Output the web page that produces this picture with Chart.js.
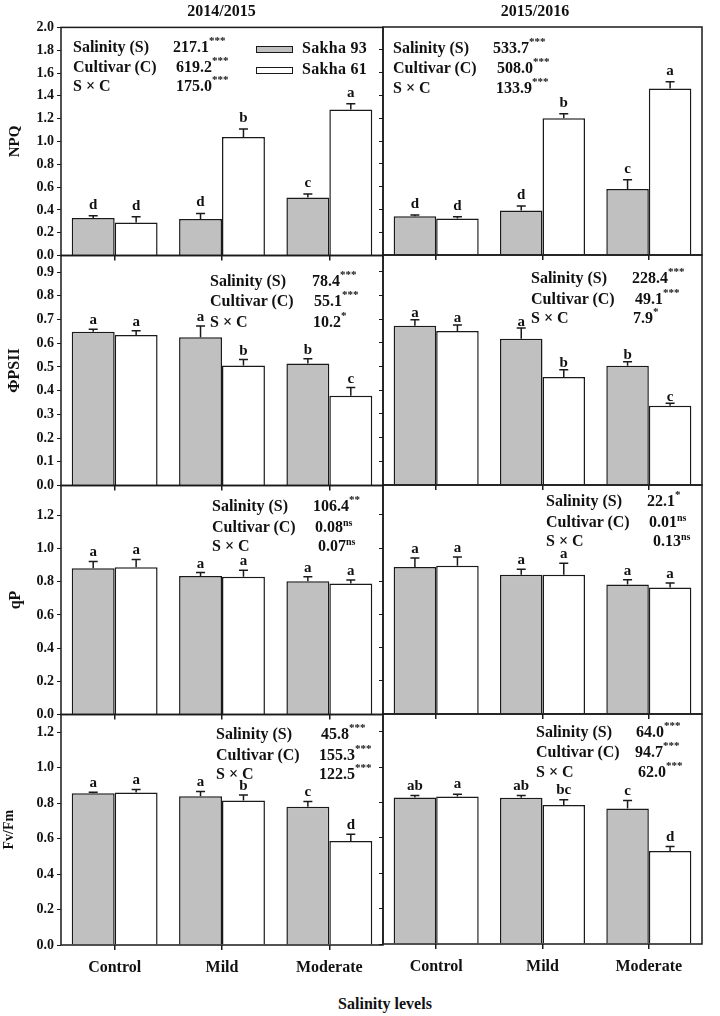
<!DOCTYPE html>
<html>
<head>
<meta charset="utf-8">
<script src="https://cdn.jsdelivr.net/npm/chart.js@4.4.0/dist/chart.umd.min.js"></script>
<style>
html,body{margin:0;padding:0;background:#fff;}
#fig{position:relative;width:720px;height:1016px;overflow:hidden;background:#fff;
  font-family:'Liberation Serif','Times New Roman',serif;font-weight:bold;color:#111;}
#fig canvas{position:absolute;}
.t{position:absolute;white-space:nowrap;}
.sup{position:relative;line-height:0;}
</style>
</head>
<body>
<div id="fig"></div>
<script>
// ---------------- data ----------------
const categories = ['Control', 'Mild', 'Moderate'];
const seriesNames = ['Sakha 93', 'Sakha 61'];
const seasons = ['2014/2015', '2015/2016'];
const statLabels = ['Salinity (S)', 'Cultivar (C)', 'S \u00d7 C'];
const xAxisTitle = 'Salinity levels';

// NPQ
const npq1415S93 = [0.33, 0.32, 0.51];
const npq1415S93Err = [0.02, 0.05, 0.03];
const npq1415S61 = [0.29, 1.04, 1.28];
const npq1415S61Err = [0.05, 0.07, 0.05];
const npq1415S93Let = ['d', 'd', 'c'];
const npq1415S61Let = ['d', 'b', 'a'];
const npq1415Stat = ['217.1', '619.2', '175.0'];
const npq1415Sig = ['***', '***', '***'];

const npq1516S93 = [0.34, 0.39, 0.58];
const npq1516S93Err = [0.01, 0.04, 0.08];
const npq1516S61 = [0.32, 1.20, 1.46];
const npq1516S61Err = [0.015, 0.04, 0.06];
const npq1516S93Let = ['d', 'd', 'c'];
const npq1516S61Let = ['d', 'b', 'a'];
const npq1516Stat = ['533.7', '508.0', '133.9'];
const npq1516Sig = ['***', '***', '***'];

// PhiPSII
const phi1415S93 = [0.648, 0.625, 0.514];
const phi1415S93Err = [0.011, 0.047, 0.021];
const phi1415S61 = [0.635, 0.506, 0.379];
const phi1415S61Err = [0.017, 0.025, 0.034];
const phi1415S93Let = ['a', 'a', 'b'];
const phi1415S61Let = ['a', 'b', 'c'];
const phi1415Stat = ['78.4', '55.1', '10.2'];
const phi1415Sig = ['***', '***', '*'];

const phi1516S93 = [0.672, 0.617, 0.503];
const phi1516S93Err = [0.025, 0.045, 0.017];
const phi1516S61 = [0.649, 0.456, 0.334];
const phi1516S61Err = [0.026, 0.030, 0.011];
const phi1516S93Let = ['a', 'a', 'b'];
const phi1516S61Let = ['a', 'b', 'c'];
const phi1516Stat = ['228.4', '49.1', '7.9'];
const phi1516Sig = ['***', '***', '*'];

// qP
const qp1415S93 = [0.881, 0.835, 0.803];
const qp1415S93Err = [0.041, 0.020, 0.027];
const qp1415S61 = [0.887, 0.830, 0.789];
const qp1415S61Err = [0.047, 0.039, 0.022];
const qp1415S93Let = ['a', 'a', 'a'];
const qp1415S61Let = ['a', 'a', 'a'];
const qp1415Stat = ['106.4', '0.08', '0.07'];
const qp1415Sig = ['**', 'ns', 'ns'];

const qp1516S93 = [0.886, 0.839, 0.781];
const qp1516S93Err = [0.054, 0.034, 0.028];
const qp1516S61 = [0.893, 0.839, 0.763];
const qp1516S61Err = [0.053, 0.069, 0.026];
const qp1516S93Let = ['a', 'a', 'a'];
const qp1516S61Let = ['a', 'a', 'a'];
const qp1516Stat = ['22.1', '0.01', '0.13'];
const qp1516Sig = ['*', 'ns', 'ns'];

// Fv/Fm
const fv1415S93 = [0.855, 0.839, 0.779];
const fv1415S93Err = [0.006, 0.027, 0.030];
const fv1415S61 = [0.860, 0.815, 0.587];
const fv1415S61Err = [0.017, 0.030, 0.037];
const fv1415S93Let = ['a', 'a', 'c'];
const fv1415S61Let = ['a', 'b', 'd'];
const fv1415Stat = ['45.8', '155.3', '122.5'];
const fv1415Sig = ['***', '***', '***'];

const fv1516S93 = [0.828, 0.826, 0.766];
const fv1516S93Err = [0.011, 0.013, 0.045];
const fv1516S61 = [0.834, 0.785, 0.526];
const fv1516S61Err = [0.013, 0.030, 0.025];
const fv1516S93Let = ['ab', 'ab', 'c'];
const fv1516S61Let = ['a', 'bc', 'd'];
const fv1516Stat = ['64.0', '94.7', '62.0'];
const fv1516Sig = ['***', '***', '***'];

// axes
const yTitles = ['NPQ', '\u03a6PSII', 'qP', 'Fv/Fm'];
const yMax = [2.0, 0.97, 1.38, 1.3];
const yStep = [0.2, 0.1, 0.2, 0.2];

// ---------------- layout / style ----------------
const COLS = [{l: 61, r: 383}, {l: 383, r: 702}];
const ROWS = [[27, 255], [255, 485], [485, 714], [714, 944]];
const PAD_T = 10, PAD_R = 6;
const INK = '#1a1a1a';
const GREY = '#c0c0c0';
Chart.defaults.font.family = "'Liberation Serif','Times New Roman',serif";
Chart.defaults.font.weight = 'bold';
Chart.defaults.color = '#111';

const panels = [
  {row:0,col:0,a:npq1415S93,ae:npq1415S93Err,al:npq1415S93Let,b:npq1415S61,be:npq1415S61Err,bl:npq1415S61Let,st:npq1415Stat,sg:npq1415Sig,
   gap:7, lx:73, vx:[173,176,176], bl3:[52.5,72.5,91.5]},
  {row:0,col:1,a:npq1516S93,ae:npq1516S93Err,al:npq1516S93Let,b:npq1516S61,be:npq1516S61Err,bl:npq1516S61Let,st:npq1516Stat,sg:npq1516Sig,
   gap:7, lx:393, vx:[493,497,496], bl3:[53,73,93]},
  {row:1,col:0,a:phi1415S93,ae:phi1415S93Err,al:phi1415S93Let,b:phi1415S61,be:phi1415S61Err,bl:phi1415S61Let,st:phi1415Stat,sg:phi1415Sig,
   gap:5, lx:210, vx:[312,314,313], bl3:[286.7,306.7,327]},
  {row:1,col:1,a:phi1516S93,ae:phi1516S93Err,al:phi1516S93Let,b:phi1516S61,be:phi1516S61Err,bl:phi1516S61Let,st:phi1516Stat,sg:phi1516Sig,
   gap:2.5, lx:531, vx:[632,635,633], bl3:[283.3,304,323.3]},
  {row:2,col:0,a:qp1415S93,ae:qp1415S93Err,al:qp1415S93Let,b:qp1415S61,be:qp1415S61Err,bl:qp1415S61Let,st:qp1415Stat,sg:qp1415Sig,
   gap:5, lx:212, vx:[313,315,318], bl3:[511.7,532,551.7]},
  {row:2,col:1,a:qp1516S93,ae:qp1516S93Err,al:qp1516S93Let,b:qp1516S61,be:qp1516S61Err,bl:qp1516S61Let,st:qp1516Stat,sg:qp1516Sig,
   gap:5, lx:546, vx:[647,649,653], bl3:[506.7,527.3,546.7]},
  {row:3,col:0,a:fv1415S93,ae:fv1415S93Err,al:fv1415S93Let,b:fv1415S61,be:fv1415S61Err,bl:fv1415S61Let,st:fv1415Stat,sg:fv1415Sig,
   gap:5, lx:216, vx:[321,319,319], bl3:[739,760,779.3]},
  {row:3,col:1,a:fv1516S93,ae:fv1516S93Err,al:fv1516S93Let,b:fv1516S61,be:fv1516S61Err,bl:fv1516S61Let,st:fv1516Stat,sg:fv1516Sig,
   gap:6, lx:536, vx:[636,635,638], bl3:[737.3,757.3,777.3]}
];
const yTitleStyle = [{size:15,pad:6},{size:16,pad:5.4},{size:16,pad:6.4},{size:14,pad:1}];

const fig = document.getElementById('fig');

// text helper: x position, baseline y
function place(html, x, baseline, size, align) {
  const d = document.createElement('div');
  d.className = 't';
  d.style.fontSize = size + 'px';
  d.style.lineHeight = size + 'px';
  d.style.top = (baseline - 0.8375 * size) + 'px';
  if (align === 'center') {
    d.style.left = (x - 150) + 'px';
    d.style.width = '300px';
    d.style.textAlign = 'center';
  } else {
    d.style.left = x + 'px';
  }
  d.innerHTML = html;
  fig.appendChild(d);
  return d;
}

const annotate = {
  id: 'annotate',
  afterDatasetsDraw(chart, args, opts) {
    const {ctx, chartArea: a} = chart;
    const y = chart.scales.y;
    ctx.save();
    chart.data.datasets.forEach((ds, di) => {
      const meta = chart.getDatasetMeta(di);
      meta.data.forEach((bar, i) => {
        const yTop = y.getPixelForValue(ds.data[i] + ds.err[i]);
        ctx.strokeStyle = INK;
        ctx.lineWidth = 1.5;
        ctx.beginPath();
        ctx.moveTo(bar.x, bar.y);
        ctx.lineTo(bar.x, yTop);
        ctx.moveTo(bar.x - 4.5, yTop);
        ctx.lineTo(bar.x + 4.5, yTop);
        ctx.stroke();
        ctx.fillStyle = '#111';
        ctx.font = "bold 15px 'Liberation Serif','Times New Roman',serif";
        ctx.textAlign = 'center';
        ctx.textBaseline = 'alphabetic';
        ctx.fillText(ds.letters[i], bar.x, yTop - opts.gap);
      });
    });
    ctx.strokeStyle = INK;
    ctx.lineWidth = 1.5;
    ctx.strokeRect(a.left, a.top, a.right - a.left, a.bottom - a.top);
    ctx.restore();
  }
};

function buildConfig(p, yW, xH) {
  const ts = yTitleStyle[p.row];
  return {
    type: 'bar',
    data: {
      labels: categories,
      datasets: [
        {label: seriesNames[0], data: p.a, err: p.ae, letters: p.al,
         backgroundColor: GREY, borderColor: INK, borderWidth: 1.5,
         categoryPercentage: 0.8, barPercentage: 1.0},
        {label: seriesNames[1], data: p.b, err: p.be, letters: p.bl,
         backgroundColor: '#ffffff', borderColor: INK, borderWidth: 1.5,
         categoryPercentage: 0.8, barPercentage: 1.0}
      ]
    },
    options: {
      responsive: false, maintainAspectRatio: false, animation: false, devicePixelRatio: 1,
      layout: {padding: {top: PAD_T, right: PAD_R, left: 0, bottom: 0}},
      plugins: {legend: {display: false}, tooltip: {enabled: false}, title: {display: false},
                annotate: {gap: p.gap}},
      scales: {
        x: {
          offset: true,
          grid: {display: true, offset: false, drawOnChartArea: false, drawTicks: true,
                 tickLength: 5, color: INK, lineWidth: 1.5},
          border: {display: false},
          ticks: {display: p.row === 3, font: {size: 16, weight: 'bold'}, color: '#111',
                  padding: 8, maxRotation: 0, autoSkip: false},
          afterFit: s => { s.height = xH; }
        },
        y: {
          min: 0, max: yMax[p.row],
          ticks: {stepSize: yStep[p.row], includeBounds: false, display: p.col === 0,
                  callback: v => Number(v).toFixed(1), font: {size: 14, weight: 'bold'},
                  color: '#111', padding: 3},
          grid: {drawOnChartArea: false, drawTicks: true, tickLength: 4, color: INK, lineWidth: 1},
          border: {display: false},
          title: {display: p.col === 0, text: yTitles[p.row], color: '#111',
                  font: {size: ts.size, weight: 'bold'}, padding: {top: ts.pad, bottom: 0}},
          afterFit: s => { s.width = yW; }
        }
      }
    },
    plugins: [annotate]
  };
}

panels.forEach(p => {
  const col = COLS[p.col], row = ROWS[p.row];
  const yW = p.col === 0 ? 61 : 10;
  const xH = p.row === 3 ? 40 : 10;
  let L = col.l - yW, T = row[0] - PAD_T;
  let W = yW + (col.r - col.l) + PAD_R;
  let H = PAD_T + (row[1] - row[0]) + xH;
  let cv, chart;
  for (let it = 0; it < 4; it++) {
    cv = document.createElement('canvas');
    cv.width = W; cv.height = H;
    cv.style.left = L + 'px'; cv.style.top = T + 'px';
    cv.style.width = W + 'px'; cv.style.height = H + 'px';
    fig.appendChild(cv);
    chart = new Chart(cv, buildConfig(p, yW, xH));
    const a = chart.chartArea;
    const dl = col.l - (L + a.left), dr = col.r - (L + a.right);
    const dt = row[0] - (T + a.top), db = row[1] - (T + a.bottom);
    if (Math.max(Math.abs(dl), Math.abs(dr), Math.abs(dt), Math.abs(db)) < 0.25 || it === 3) break;
    chart.destroy();
    cv.remove();
    L += dl; W += dr - dl; T += dt; H += db - dt;
  }

  // ANOVA statistics text
  for (let k = 0; k < 3; k++) {
    place(statLabels[k], p.lx, p.bl3[k], 16);
    const sig = p.sg[k];
    const isNs = sig === 'ns';
    place(p.st[k] + '<span class="sup" style="font-size:' + (isNs ? 10 : 11) + 'px;top:' + (isNs ? -6 : -8) + 'px">' + sig + '</span>',
          p.vx[k], p.bl3[k], 16);
  }
});

// season titles
place(seasons[0], 221.5, 16, 16, 'center');
place(seasons[1], 535, 16, 16, 'center');

// legend
[[45.5, GREY, 53.3], [66.5, '#ffffff', 74]].forEach((Lg, i) => {
  const b = document.createElement('div');
  b.style.cssText = 'position:absolute;left:256px;top:' + Lg[0] + 'px;width:37px;height:7.5px;box-sizing:border-box;border:1.5px solid ' + INK + ';background:' + Lg[1] + ';';
  fig.appendChild(b);
  const t = place(seriesNames[i], 302, Lg[2], 16);
  t.style.letterSpacing = '0.3px';
});

// x axis title
place(xAxisTitle, 385, 1009, 16, 'center');
</script>
</body>
</html>
